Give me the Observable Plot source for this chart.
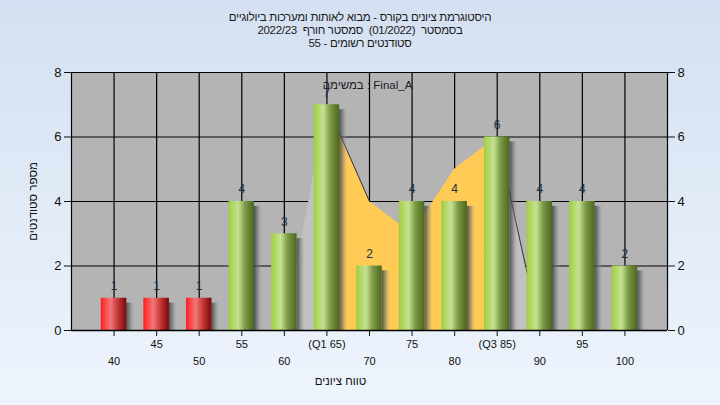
<!DOCTYPE html>
<html><head><meta charset="utf-8">
<script src="https://cdn.jsdelivr.net/npm/d3@7"></script>
<script src="https://cdn.jsdelivr.net/npm/@observablehq/plot@0.6"></script>
<style>
html,body{margin:0;padding:0;width:720px;height:405px;overflow:hidden;}
body{background:linear-gradient(to bottom,#d4e0f1,#eef4fc);font-family:"Liberation Sans",Arial,sans-serif;}
#title{height:50px;box-sizing:border-box;padding-top:11px;text-align:center;font-size:11.5px;line-height:13px;color:#1a1a1a;direction:rtl;white-space:pre;letter-spacing:-0.3px;}
#chart svg{display:block;background:transparent;overflow:visible;}
</style></head><body>
<div id="title"></div>
<div id="chart"></div>
<script>
// ---- data ----
const titleLines = [
  "היסטוגרמת ציונים בקורס - מבוא לאותות ומערכות ביולוגיים",
  "בסמסטר  (01/2022)  סמסטר חורף  2022/23",
  "סטודנטים רשומים - 55"
];
const scores = [40, 45, 50, 55, 60, 65, 70, 75, 80, 85, 90, 95, 100];
const counts = [1, 1, 1, 4, 3, 7, 2, 4, 4, 6, 4, 4, 2];
const passMark = 55;
const curveScores = [60, 65, 70, 75, 80, 85, 90];
const curveValues = [0, 7, 4, 3, 5, 6, 0];
const q1 = 65, q3 = 85;
const yTicks = [0, 2, 4, 6, 8];
const xTickLabels = {65: "(Q1 65)", 85: "(Q3 85)"};
const seriesName = "Final_A";
const legendLabel = "במשימה : " + seriesName;
const xTitle = "טווח ציונים";
const yTitle = "מספר סטודנטים";

// ---- build ----
d3.select("#title").selectAll("div").data(titleLines).join("div").text(d => d);

const bars = scores.map((s, i) => ({score: s, count: counts[i], fail: s < passMark}));
const curve = curveScores.map((s, i) => ({score: s, value: curveValues[i]}));
const segs = curve.slice(1).map((d, i) => ({a: curve[i], b: d}));
const half = 1.5;
const fmt = v => xTickLabels[v] ?? String(v);
const oddTicks = scores.filter((s, i) => i % 2 === 1);
const evenTicks = scores.filter((s, i) => i % 2 === 0);
const font = "'Liberation Sans', Arial, sans-serif";

const plot = Plot.plot({
  width: 720, height: 355,
  marginTop: 22, marginBottom: 75, marginLeft: 71, marginRight: 53,
  x: {domain: [35, 105]},
  y: {domain: [0, 8]},
  style: {fontFamily: font, background: "transparent", overflow: "visible"},
  marks: [
    Plot.frame({fill: "#b4b4b4", stroke: null}),
    Plot.gridY(yTicks, {stroke: "#000", strokeOpacity: 1, strokeWidth: 1.2}),
    Plot.gridX(scores, {stroke: "#000", strokeOpacity: 1, strokeWidth: 1.2}),
    Plot.areaY(curve.filter(d => d.score <= q1), {x: "score", y: "value", fill: "#c1c1c1"}),
    Plot.areaY(curve.filter(d => d.score >= q3), {x: "score", y: "value", fill: "#c1c1c1"}),
    Plot.areaY(curve.filter(d => d.score >= q1 && d.score <= q3), {x: "score", y: "value", fill: "#ffcb55"}),
    Plot.link(segs.filter(s => s.a.score === q1 || s.a.score === q3), {
      x1: s => s.a.score, y1: s => s.a.value, x2: s => s.b.score, y2: s => s.b.value,
      stroke: "#333", strokeWidth: 1
    }),
    Plot.rect(bars, {
      x1: d => d.score + half, x2: d => d.score + half + 1.0,
      y1: () => 0, y2: d => Math.max(0, d.count - 0.15),
      fill: "url(#shadowGrad)"
    }),
    Plot.rect(bars.filter(d => d.fail), {
      x1: d => d.score - half, x2: d => d.score + half, y1: () => 0, y2: "count",
      fill: "url(#redGrad)"
    }),
    Plot.rect(bars.filter(d => !d.fail), {
      x1: d => d.score - half, x2: d => d.score + half, y1: () => 0, y2: "count",
      fill: "url(#greenGrad)"
    }),
    Plot.ruleY([0], {stroke: "#000", strokeWidth: 1.4}),
    Plot.ruleX([35, 105], {stroke: "#000", strokeWidth: 1.2}),
    Plot.text(bars, {x: "score", y: "count", text: d => String(d.count), dy: -12,
      fill: "#1e2c44", fontSize: 12, lineAnchor: "middle"}),
    Plot.text([legendLabel], {frameAnchor: "top", dx: -2, dy: 13, text: d => d,
      fontSize: 11.5, fill: "#221a2a", lineAnchor: "middle"}),
    Plot.axisY(yTicks, {anchor: "left", tickSize: 7, tickPadding: 3, fontSize: 13, color: "#111", label: null}),
    Plot.axisY(yTicks, {anchor: "right", tickSize: 7, tickPadding: 3, fontSize: 13, color: "#111", label: null}),
    Plot.axisX(scores, {anchor: "bottom", tickSize: 6, tickFormat: () => "", color: "#111", label: null}),
    Plot.axisX(oddTicks, {anchor: "bottom", tickSize: 0, tickPadding: 10, tickFormat: fmt, fontSize: 11, color: "#111", label: null}),
    Plot.axisX(evenTicks, {anchor: "bottom", tickSize: 0, tickPadding: 27, tickFormat: fmt, fontSize: 11, color: "#111", label: null}),
    Plot.text([xTitle], {frameAnchor: "bottom", dx: -29, dy: 51, text: d => d, fontSize: 11.5, fill: "#111",
      lineAnchor: "middle", textAnchor: "middle", letterSpacing: "-0.3px"}),
    Plot.text([yTitle], {frameAnchor: "left", dx: -38, rotate: -90, text: d => d, fontSize: 11.5, fill: "#111",
      lineAnchor: "middle", textAnchor: "middle", letterSpacing: "-0.3px"})
  ]
});

d3.select(plot).insert("defs", ":first-child").html(`
  <linearGradient id="redGrad" x1="0" x2="1" y1="0" y2="0">
    <stop offset="0" stop-color="#ff1c1c"/>
    <stop offset="0.12" stop-color="#ff3a3a"/>
    <stop offset="0.38" stop-color="#f27878"/>
    <stop offset="0.65" stop-color="#c83a3a"/>
    <stop offset="1" stop-color="#760808"/>
  </linearGradient>
  <linearGradient id="greenGrad" x1="0" x2="1" y1="0" y2="0">
    <stop offset="0" stop-color="#9ccc44"/>
    <stop offset="0.12" stop-color="#acd658"/>
    <stop offset="0.38" stop-color="#c6e194"/>
    <stop offset="0.65" stop-color="#7c9a44"/>
    <stop offset="1" stop-color="#4a6620"/>
  </linearGradient>
  <linearGradient id="shadowGrad" x1="0" x2="1" y1="0" y2="0">
    <stop offset="0" stop-color="#3a3a3a" stop-opacity="0.85"/>
    <stop offset="0.5" stop-color="#707070" stop-opacity="0.5"/>
    <stop offset="1" stop-color="#b4b4b4" stop-opacity="0"/>
  </linearGradient>
`);
document.getElementById("chart").appendChild(plot);
</script></body></html>
